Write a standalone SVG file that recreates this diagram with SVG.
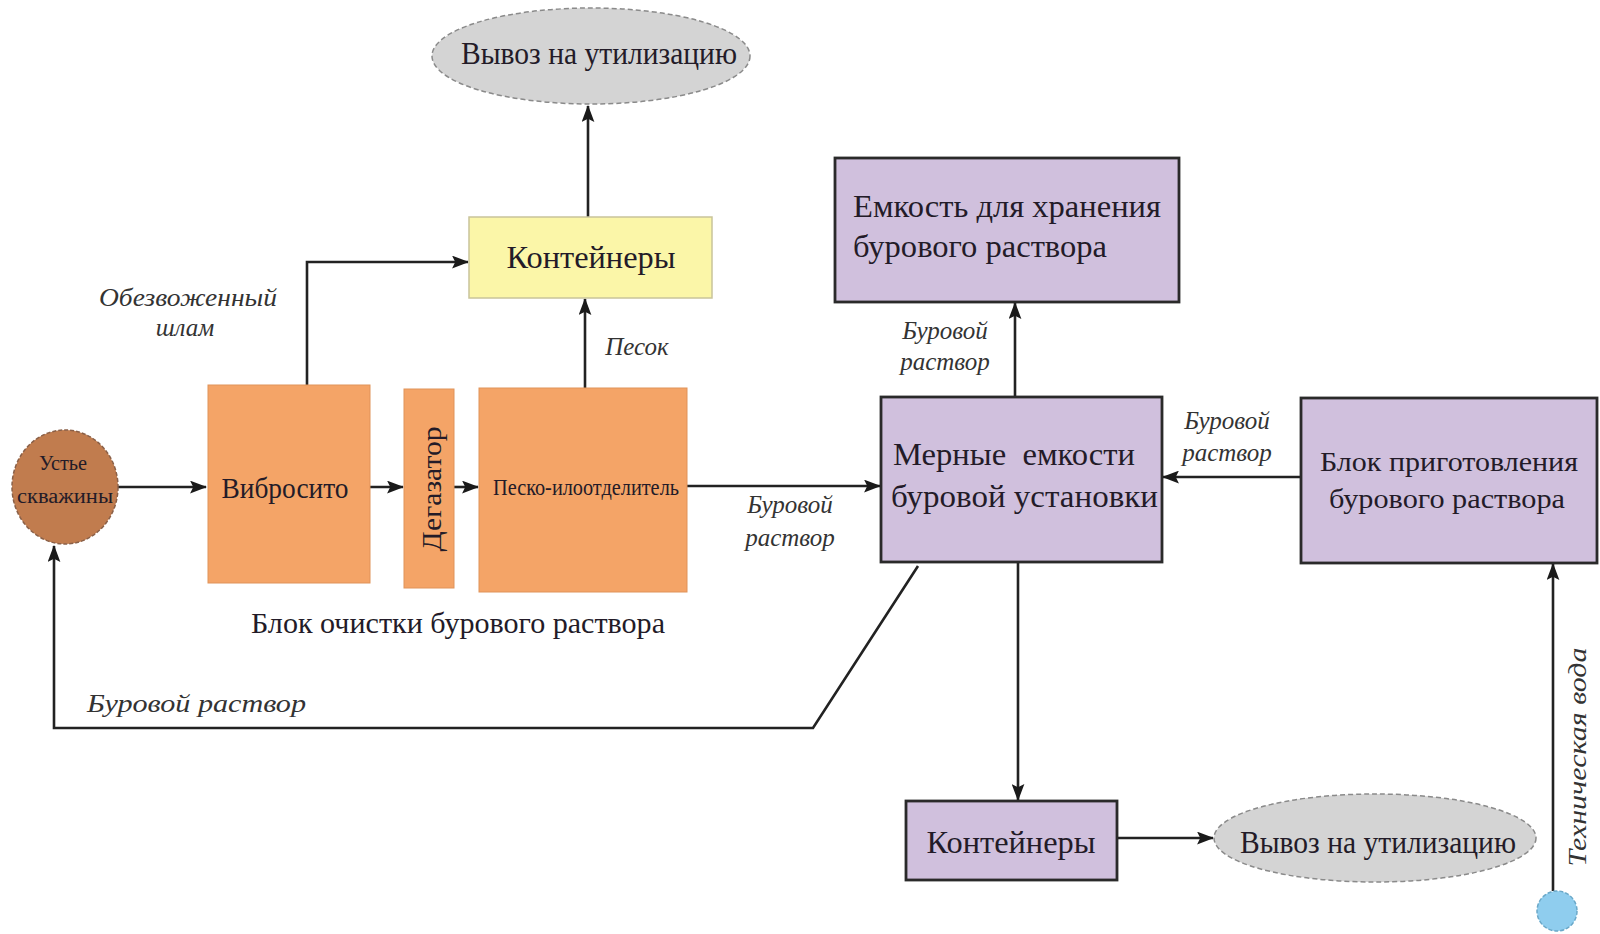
<svg xmlns="http://www.w3.org/2000/svg" width="1600" height="934" viewBox="0 0 1600 934">
<style>
.t{font-family:"Liberation Serif","Times New Roman",serif;fill:#231b28;}
.i{font-family:"Liberation Serif","Times New Roman",serif;font-style:italic;fill:#333;font-size:25px;}
.c{stroke:#222;stroke-width:2.6;fill:none;}
.pur{fill:#d0c0dd;stroke:#2a2a2a;stroke-width:2.8;}
.org{fill:#f4a467;stroke:#e0935a;stroke-width:1;}
.ell{fill:#d4d4d4;stroke:#8a8a8a;stroke-width:1.5;stroke-dasharray:5 3;}
</style>
<defs>
<marker id="ah" viewBox="0 0 16 12" refX="15" refY="6" markerWidth="17" markerHeight="13" markerUnits="userSpaceOnUse" orient="auto">
<path d="M0,0 L16,6 L0,12 L3,6 Z" fill="#1a1a1a"/>
</marker>
</defs>
<rect width="1600" height="934" fill="#ffffff"/>

<g id="connectors">
<path class="c" d="M118,487 H206" marker-end="url(#ah)"/>
<path class="c" d="M370,487 H403" marker-end="url(#ah)"/>
<path class="c" d="M454,487 H478" marker-end="url(#ah)"/>
<path class="c" d="M687,486 H880" marker-end="url(#ah)"/>
<path class="c" d="M307,385 V262 H468" marker-end="url(#ah)"/>
<path class="c" d="M585,388 V299" marker-end="url(#ah)"/>
<path class="c" d="M588,217 V106" marker-end="url(#ah)"/>
<path class="c" d="M1015,397 V303" marker-end="url(#ah)"/>
<path class="c" d="M1301,477 H1163" marker-end="url(#ah)"/>
<path class="c" d="M1018,562 V800" marker-end="url(#ah)"/>
<path class="c" d="M1117,838 H1213" marker-end="url(#ah)"/>
<path class="c" d="M1553,891 V564" marker-end="url(#ah)"/>
<path class="c" d="M918,566 L813,728 H54 V546" marker-end="url(#ah)"/>
</g>

<g id="ustye">
<ellipse cx="65" cy="487" rx="53" ry="57" fill="#c17c4e" stroke="#8a6048" stroke-width="1.5" stroke-dasharray="4 2"/>
<text class="t" x="63" y="470" font-size="20" text-anchor="middle" textLength="48" lengthAdjust="spacingAndGlyphs">Устье</text>
<text class="t" x="65" y="503" font-size="20" text-anchor="middle" textLength="96" lengthAdjust="spacingAndGlyphs">скважины</text>
</g>

<g id="vibrosito">
<rect class="org" x="208" y="385" width="162" height="198"/>
<text class="t" x="285" y="498" font-size="30" text-anchor="middle" textLength="127" lengthAdjust="spacingAndGlyphs">Вибросито</text>
</g>

<g id="degazator">
<rect class="org" x="404" y="389" width="50" height="199"/>
<text class="t" transform="translate(441,489) rotate(-90)" x="0" y="0" font-size="27" text-anchor="middle" textLength="125" lengthAdjust="spacingAndGlyphs">Дегазатор</text>
</g>

<g id="pesko">
<rect class="org" x="479" y="388" width="208" height="204"/>
<text class="t" x="586" y="495" font-size="24" text-anchor="middle" textLength="186" lengthAdjust="spacingAndGlyphs">Песко-илоотделитель</text>
</g>

<g id="block-label">
<text class="t" x="458" y="633" font-size="30" text-anchor="middle" textLength="414" lengthAdjust="spacingAndGlyphs">Блок очистки бурового раствора</text>
</g>

<g id="konteinery-top">
<rect x="469" y="217" width="243" height="81" fill="#fbf6a8" stroke="#c9c49a" stroke-width="1.5"/>
<text class="t" x="591" y="268" font-size="32" text-anchor="middle" textLength="169" lengthAdjust="spacingAndGlyphs">Контейнеры</text>
</g>

<g id="vyvoz-top">
<ellipse class="ell" cx="591" cy="56" rx="159" ry="48"/>
<text class="t" x="599" y="64" font-size="31" text-anchor="middle" textLength="276" lengthAdjust="spacingAndGlyphs">Вывоз на утилизацию</text>
</g>

<g id="emkost">
<rect class="pur" x="835" y="158" width="344" height="144"/>
<text class="t" x="853" y="217" font-size="31" textLength="308" lengthAdjust="spacingAndGlyphs">Емкость для хранения</text>
<text class="t" x="853" y="257" font-size="31" textLength="254" lengthAdjust="spacingAndGlyphs">бурового раствора</text>
</g>

<g id="mernye">
<rect class="pur" x="881" y="397" width="281" height="165"/>
<text class="t" x="893" y="465" font-size="31" style="white-space:pre" textLength="242" lengthAdjust="spacingAndGlyphs">Мерные  емкости</text>
<text class="t" x="891" y="507" font-size="31" textLength="267" lengthAdjust="spacingAndGlyphs">буровой установки</text>
</g>

<g id="blok-prigot">
<rect class="pur" x="1301" y="398" width="296" height="165"/>
<text class="t" x="1449" y="471" font-size="28" text-anchor="middle" textLength="258" lengthAdjust="spacingAndGlyphs">Блок приготовления</text>
<text class="t" x="1447" y="508" font-size="28" text-anchor="middle" textLength="236" lengthAdjust="spacingAndGlyphs">бурового раствора</text>
</g>

<g id="konteinery-bottom">
<rect class="pur" x="906" y="801" width="211" height="79"/>
<text class="t" x="1011" y="853" font-size="32" text-anchor="middle" textLength="169" lengthAdjust="spacingAndGlyphs">Контейнеры</text>
</g>

<g id="vyvoz-bottom">
<ellipse class="ell" cx="1375" cy="838" rx="161" ry="44"/>
<text class="t" x="1378" y="853" font-size="31" text-anchor="middle" textLength="276" lengthAdjust="spacingAndGlyphs">Вывоз на утилизацию</text>
</g>

<g id="voda">
<circle cx="1557" cy="911" r="20" fill="#8fcdee" stroke="#6aa8c8" stroke-width="1.5" stroke-dasharray="4 2"/>
</g>

<g id="labels">
<text class="i" x="188" y="306" text-anchor="middle" textLength="178" lengthAdjust="spacingAndGlyphs">Обезвоженный</text>
<text class="i" x="185" y="336" text-anchor="middle">шлам</text>
<text class="i" x="637" y="355" text-anchor="middle">Песок</text>
<text class="i" x="790" y="513" text-anchor="middle">Буровой</text>
<text class="i" x="790" y="546" text-anchor="middle">раствор</text>
<text class="i" x="945" y="339" text-anchor="middle">Буровой</text>
<text class="i" x="945" y="370" text-anchor="middle">раствор</text>
<text class="i" x="1227" y="429" text-anchor="middle">Буровой</text>
<text class="i" x="1227" y="461" text-anchor="middle">раствор</text>
<text class="i" x="87" y="712" textLength="219" lengthAdjust="spacingAndGlyphs">Буровой раствор</text>
<text class="i" transform="translate(1586,757) rotate(-90)" x="0" y="0" text-anchor="middle" textLength="219" lengthAdjust="spacingAndGlyphs">Техническая вода</text>
</g>
</svg>
